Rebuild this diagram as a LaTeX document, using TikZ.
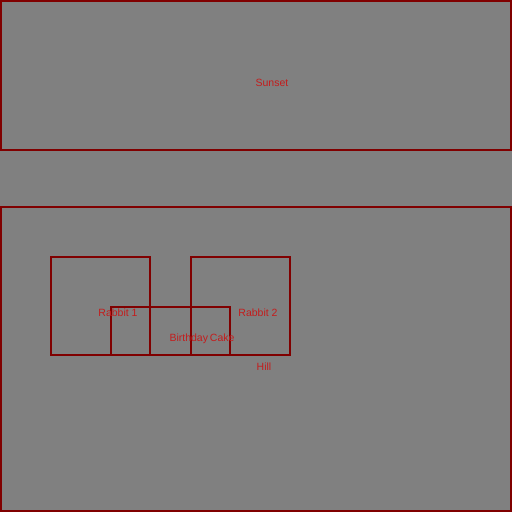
\documentclass[tikz,border=0pt]{standalone}
\usepackage{fontspec}
\setmainfont{Liberation Sans}
\usepackage{xcolor}
\usetikzlibrary{positioning}
\definecolor{sceneGray}{RGB}{128,128,128}
\definecolor{frameRed}{RGB}{128,0,0}
\definecolor{labelRed}{RGB}{196,28,28}
\tikzset{
  region/.style={draw=frameRed,line width=2pt},
  tag/.style={text=labelRed,font=\fontsize{10.5}{12}\selectfont,inner sep=0pt}
}

\begin{document}
\begin{tikzpicture}[x=1pt,y=-1pt]
\fill[sceneGray] (0,0) rectangle (512,512);
\useasboundingbox (0,0) rectangle (512,512);
% sky and hill
\draw[region] (1,1) rectangle (511,150);
\draw[region] (1,207) rectangle (511,511);
% rabbits and cake
\draw[region] (51,257) rectangle (150,355);
\draw[region] (191,257) rectangle (290,355);
\draw[region] (111,307) rectangle (230,355);
\node[tag] (sunset) at (272,82.5) {Sunset};
\node[tag] (hill) at (264,366.5) {Hill};
\node[tag] (rabbitOne) at (118,313) {Rabbit 1};
\node[tag] (rabbitTwo) at (258,313) {Rabbit 2};
\node[tag] (cake) at (202,338.5) {Birthday\hspace{-1pt} Cake};
\end{tikzpicture}
\end{document}
